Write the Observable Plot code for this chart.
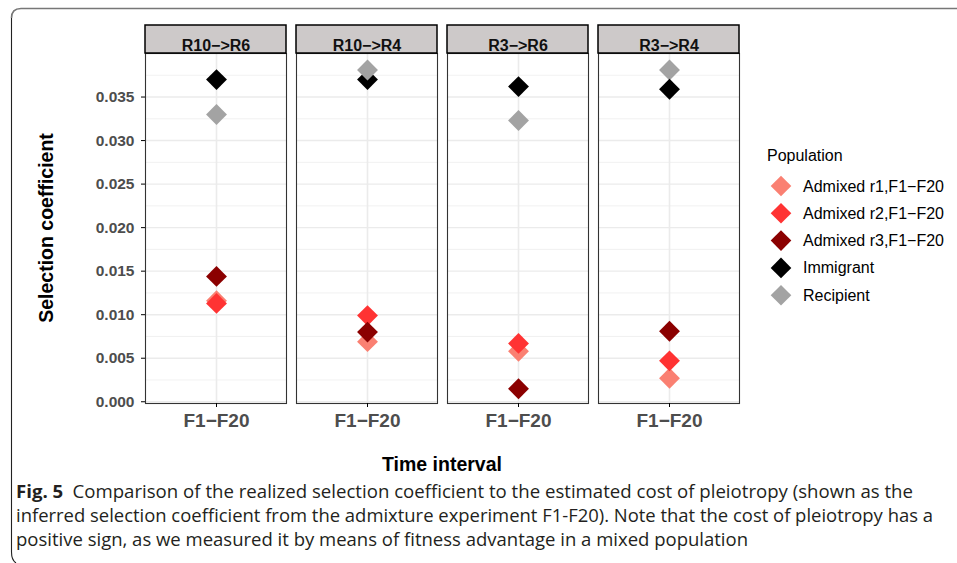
<!DOCTYPE html>
<html>
<head>
<meta charset="utf-8">
<script src="https://cdn.jsdelivr.net/npm/d3@7"></script>
<script src="https://cdn.jsdelivr.net/npm/@observablehq/plot@0.6"></script>
<style>
  html, body { margin: 0; padding: 0; background: #fff; }
  body { width: 957px; height: 563px; overflow: hidden; position: relative; font-family: "Liberation Sans", Arial, sans-serif; }
  #chart { position: absolute; left: 0; top: 0; }
  #overlay { position: absolute; left: 0; top: 0; pointer-events: none; }
  #chart g[aria-label="y-axis tick label"] { fill: #4D4D4D; font-weight: bold; font-size: 15.5px; }
  #chart g[aria-label="x-axis tick label"] { fill: #4D4D4D; font-weight: bold; font-size: 19px; }
  #chart g[aria-label="y-axis tick"], #chart g[aria-label="x-axis tick"] { stroke: #333; }
  #chart g[aria-label="text"] { font-size: 16px; font-weight: bold; }
</style>
</head>
<body>
<div id="chart"></div>
<svg id="overlay" width="957" height="563"></svg>
<script>
// ---------- data ----------
const panels = ["R10\u2212>R6", "R10\u2212>R4", "R3\u2212>R6", "R3\u2212>R4"];
const intervals = ["F1\u2212F20"];
const populations = ["Admixed r1,F1\u2212F20", "Admixed r2,F1\u2212F20", "Admixed r3,F1\u2212F20", "Immigrant", "Recipient"];
const popColors = ["#FA8072", "#FF3333", "#8B0000", "#000000", "#A3A3A3"];

// selection coefficient per panel (same order as panels)
const admixedR1 = [0.0116, 0.0069, 0.0058, 0.0027];
const admixedR2 = [0.0113, 0.0099, 0.0067, 0.0047];
const admixedR3 = [0.0144, 0.0080, 0.0015, 0.0081];
const immigrant = [0.0370, 0.0370, 0.0362, 0.0359];
const recipient = [0.0330, 0.0381, 0.0323, 0.0381];
const seriesValues = [admixedR1, admixedR2, admixedR3, immigrant, recipient];

// drawing order of populations within each panel (later = on top)
const drawOrder = [[0, 1, 2, 3, 4], [0, 1, 2, 3, 4], [0, 1, 2, 3, 4], [0, 1, 2, 4, 3]];

const yTicks = [0, 0.005, 0.010, 0.015, 0.020, 0.025, 0.030, 0.035];
const yMinor = [0.0025, 0.0075, 0.0125, 0.0175, 0.0225, 0.0275, 0.0325, 0.0375];
const yDomain = [-0.0002, 0.0400];

const xTitle = "Time interval";
const yTitle = "Selection coefficient";
const legendTitle = "Population";
const captionBold = "Fig. 5";
const captionLines = [
  "Comparison of the realized selection coefficient to the estimated cost of pleiotropy (shown as the",
  "inferred selection coefficient from the admixture experiment F1-F20). Note that the cost of pleiotropy has a",
  "positive sign, as we measured it by means of fitness advantage in a mixed population"
];

// ---------- rows ----------
const rows = [];
panels.forEach((p, pi) => {
  drawOrder[pi].forEach(si => {
    rows.push({panel: p, interval: intervals[0], population: populations[si], value: seriesValues[si][pi]});
  });
});

const FONT = "'Liberation Sans', Arial, sans-serif";

const plot = Plot.plot({
  width: 957,
  height: 440,
  marginLeft: 145,
  marginRight: 218,
  marginTop: 53,
  marginBottom: 37,
  style: {fontFamily: FONT, background: "transparent", overflow: "visible"},
  fx: {domain: panels, paddingInner: 10 / 151, paddingOuter: 0, axis: null, label: null},
  x: {type: "point", domain: intervals, padding: 0.5, label: null},
  y: {domain: yDomain, label: null},
  color: {domain: populations, range: popColors},
  marks: [
    Plot.ruleY(yMinor, {y: d => d, stroke: "#EBEBEB", strokeWidth: 0.7}),
    Plot.ruleY(yTicks, {y: d => d, stroke: "#EBEBEB", strokeWidth: 1.4}),
    Plot.ruleX(intervals, {x: d => d, stroke: "#EBEBEB", strokeWidth: 1.6}),
    Plot.dot(rows, {fx: "panel", x: "interval", y: "value", fill: "population", symbol: "diamond2", r: 9.4, stroke: "none"}),
    Plot.frame({stroke: "#333", strokeWidth: 1.1}),
    Plot.rect(panels, {fx: d => d, y1: () => yDomain[1], y2: () => yDomain[1], insetTop: -28, fill: "#CDC9C9", stroke: "#000", strokeWidth: 1.5}),
    Plot.text(panels, {fx: d => d, text: d => d, frameAnchor: "top", dy: -14, fontSize: 16, fontWeight: "bold", fill: "#111"}),
    Plot.axisY({ticks: yTicks, tickFormat: d3.format(".3f"), tickSize: 4, tickPadding: 7, fontSize: 15.5, label: null}),
    Plot.axisX({tickSize: 4, tickPadding: 6, fontSize: 19, label: null})
  ]
});
document.getElementById("chart").appendChild(plot);

// ---------- overlay: titles, legend, caption, frame ----------
const ov = d3.select("#overlay");

ov.append("text")
  .attr("transform", "translate(46,228) rotate(-90)")
  .attr("text-anchor", "middle").attr("dominant-baseline", "central")
  .attr("font-family", FONT).attr("font-weight", "bold").attr("font-size", 19.5)
  .attr("fill", "#000").text(yTitle);

ov.append("text")
  .attr("x", 442).attr("y", 464)
  .attr("text-anchor", "middle").attr("dominant-baseline", "central")
  .attr("font-family", FONT).attr("font-weight", "bold").attr("font-size", 19.5)
  .attr("fill", "#000").text(xTitle);

// legend
const lg = ov.append("g");
lg.append("text").attr("x", 767).attr("y", 155).attr("dominant-baseline", "central")
  .attr("font-family", FONT).attr("font-size", 16).attr("fill", "#000").text(legendTitle);
populations.forEach((p, i) => {
  const cy = 186 + i * 27.3, cx = 781, h = 10.3;
  lg.append("path").attr("d", `M${cx},${cy - h}L${cx + h},${cy}L${cx},${cy + h}L${cx - h},${cy}Z`).attr("fill", popColors[i]);
  lg.append("text").attr("x", 803).attr("y", cy).attr("dominant-baseline", "central")
    .attr("font-family", FONT).attr("font-size", 16).attr("fill", "#000").text(p);
});

// caption
const capFont = "'Open Sans', 'Noto Sans', sans-serif";
const capEnds = [913, 933, 748];
const capBase = [498, 522, 546];
captionLines.forEach((line, i) => {
  const t = ov.append("text").attr("x", 16).attr("y", capBase[i])
    .attr("font-family", capFont).attr("font-size", 18).attr("fill", "#231F20")
    .attr("textLength", capEnds[i] - 16).attr("lengthAdjust", "spacingAndGlyphs");
  if (i === 0) {
    t.append("tspan").attr("font-weight", "bold").text(captionBold + "\u2002");
    t.append("tspan").text(line);
  } else {
    t.text(line);
  }
});

// figure frame
ov.append("path").attr("d", "M957,8.5H21Q11.5,8.5 11.5,18").attr("fill", "none").attr("stroke", "#777").attr("stroke-width", 1.6);
ov.append("path").attr("d", "M11.5,18V552Q11.5,560 16,563").attr("fill", "none").attr("stroke", "#222").attr("stroke-width", 1.1);
</script>
</body>
</html>
